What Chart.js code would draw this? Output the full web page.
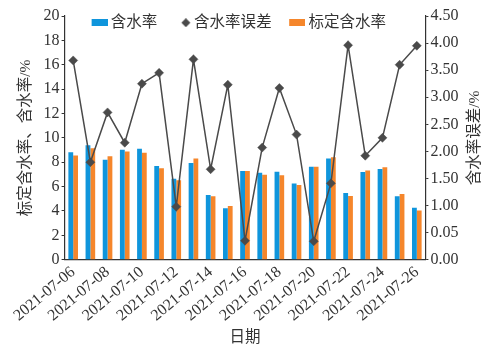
<!DOCTYPE html>
<html>
<head>
<meta charset="utf-8">
<script src="https://cdn.jsdelivr.net/npm/chart.js@4/dist/chart.umd.min.js"></script>
<style>
  html, body { margin: 0; padding: 0; background: #fff; }
  #wrap { width: 495px; height: 347px; }
</style>
</head>
<body>
<div id="wrap"><canvas id="moisture"></canvas></div>
<script>
const dates = [
  '2021-07-06', '2021-07-07', '2021-07-08', '2021-07-09', '2021-07-10', '2021-07-11', '2021-07-12',
  '2021-07-13', '2021-07-14', '2021-07-15', '2021-07-16', '2021-07-17', '2021-07-18', '2021-07-19',
  '2021-07-20', '2021-07-21', '2021-07-22', '2021-07-23', '2021-07-24', '2021-07-25', '2021-07-26'
]
const moisture = [ 8.82, 9.40, 8.20, 9.02, 9.10, 7.69, 6.64, 7.94, 5.31, 4.23, 7.28, 7.14, 7.22, 6.25, 7.63, 8.30, 5.48, 7.20, 7.44, 5.20, 4.26 ]
const calibrated = [ 8.55, 9.15, 8.50, 8.88, 8.77, 7.50, 6.53, 8.30, 5.20, 4.40, 7.28, 6.97, 6.94, 6.14, 7.63, 8.41, 5.23, 7.33, 7.58, 5.39, 4.04 ]
const moistureError = [ 3.68, 1.80, 2.72, 2.16, 3.25, 3.45, 0.98, 3.70, 1.67, 3.23, 0.35, 2.07, 3.17, 2.31, 0.34, 1.41, 3.96, 1.92, 2.25, 3.60, 3.95 ]
const errorTickLabels = [ '0.00', '0.05', '1.00', '1.50', '2.00', '2.50', '3.00', '3.50', '4.00', '4.50' ]

const BLUE = '#0f95dc'
const ORANGE = '#f5862b'
const GREY = '#4a4a4a'
const AXIS = '#333'
const FONT = "'Liberation Serif', 'Noto Sans CJK SC', serif"

// little legend swatches
function swatch( draw, w, h ) {
  const c = document.createElement( 'canvas' )
  c.width = w
  c.height = h
  draw( c.getContext( '2d' ) )
  return c
}
const blueBox = swatch( ctx => { ctx.fillStyle = BLUE; ctx.fillRect( 5, 0, 16, 7 ) }, 21, 7 )
const orangeBox = swatch( ctx => { ctx.fillStyle = ORANGE; ctx.fillRect( 5, 0, 16, 7 ) }, 21, 7 )
const diamond = swatch( ctx => {
  ctx.fillStyle = GREY
  ctx.beginPath()
  ctx.moveTo( 16, 0 ); ctx.lineTo( 20.5, 4.5 ); ctx.lineTo( 16, 9 ); ctx.lineTo( 11.5, 4.5 )
  ctx.closePath()
  ctx.fill()
}, 21, 9 )
const legendIcons = [ blueBox, diamond, orangeBox ]

// legend sits inside the plot, so give it back its height after layout
const legendInside = {
  id: 'legendInside',
  afterLayout( chart ) {
    const lg = chart.legend
    lg.top = -2
    lg.bottom = 42
    lg.height = 44
    lg.left -= 11
    lg.right -= 11
  }
}

const rightTitle = {
  id: 'rightTitle',
  afterDraw( chart ) {
    const s = chart.scales.y1
    const ctx = chart.ctx
    ctx.save()
    ctx.translate( 475, ( s.top + s.bottom ) / 2 )
    ctx.rotate( -Math.PI / 2 )
    ctx.font = '15.5px ' + FONT
    ctx.fillStyle = AXIS
    ctx.textAlign = 'center'
    ctx.textBaseline = 'middle'
    ctx.fillText( '含水率误差/%', 0, 0 )
    ctx.restore()
  }
}

const data = {
  labels: dates,
  datasets: [ {
    type: 'bar',
    label: '含水率',
    data: moisture,
    backgroundColor: BLUE,
    yAxisID: 'y',
    order: 1,
    categoryPercentage: 0.56,
    barPercentage: 1.0
  }, {
    type: 'line',
    label: '含水率误差',
    data: moistureError,
    yAxisID: 'y1',
    borderColor: GREY,
    borderWidth: 1.5,
    backgroundColor: GREY,
    pointStyle: 'rectRot',
    pointRadius: 4.5,
    pointBorderWidth: 0.5,
    pointBackgroundColor: GREY,
    pointBorderColor: GREY,
    tension: 0,
    order: 0
  }, {
    type: 'bar',
    label: '标定含水率',
    data: calibrated,
    backgroundColor: ORANGE,
    yAxisID: 'y',
    order: 1,
    categoryPercentage: 0.56,
    barPercentage: 1.0
  } ]
}

const config = {
  data: data,
  plugins: [ legendInside, rightTitle ],
  options: {
    responsive: true,
    maintainAspectRatio: false,
    animation: false,
    layout: { padding: { top: 15, right: 12, left: 16, bottom: 0 } },
    plugins: {
      tooltip: { enabled: false },
      legend: {
        position: 'top',
        align: 'center',
        maxHeight: 1,
        labels: {
          usePointStyle: true,
          pointStyleWidth: 12,
          boxHeight: 10,
          padding: 17,
          color: AXIS,
          font: { family: FONT, size: 15.5 },
          generateLabels: chart => chart.data.datasets.map( ( ds, i ) => ( {
            text: ds.label,
            pointStyle: legendIcons[ i ],
            datasetIndex: i,
            fontColor: AXIS,
            hidden: false,
            lineWidth: 0
          } ) )
        }
      }
    },
    scales: {
      x: {
        offset: true,
        grid: { display: false, drawTicks: false },
        border: { display: true, color: AXIS, width: 1.2 },
        ticks: {
          autoSkip: false,
          maxRotation: 40,
          minRotation: 40,
          padding: 3,
          color: AXIS,
          font: { family: FONT, size: 16 },
          callback: ( v, i ) => i % 2 === 0 ? dates[ i ] : ''
        },
        title: { display: true, text: '日期', color: AXIS, font: { family: FONT, size: 15.5 }, padding: { top: 0, bottom: 0 } }
      },
      y: {
        position: 'left',
        min: 0,
        max: 20,
        ticks: { stepSize: 2, color: AXIS, font: { family: FONT, size: 16 }, padding: 2 },
        grid: { drawOnChartArea: false, drawTicks: true, tickLength: 3, color: AXIS },
        border: { display: true, color: AXIS, width: 1.2 },
        title: { display: true, text: '标定含水率、含水率/%', color: AXIS, font: { family: FONT, size: 15.5 }, padding: { top: 1, bottom: 6 } }
      },
      y1: {
        position: 'right',
        min: 0,
        max: 4.5,
        ticks: {
          stepSize: 0.5,
          color: AXIS,
          font: { family: FONT, size: 16 },
          padding: 2,
          callback: ( v, i ) => errorTickLabels[ i ]
        },
        grid: { drawOnChartArea: false, drawTicks: true, tickLength: 3, color: AXIS },
        border: { display: true, color: AXIS, width: 1.2 },
        title: { display: true, text: '含水率误差/%', color: 'rgba(0,0,0,0)', font: { family: FONT, size: 15.5 }, padding: { top: 4, bottom: 0 } }
      }
    }
  }
}

const graph = new Chart( document.getElementById( 'moisture' ), config )
</script>
</body>
</html>
